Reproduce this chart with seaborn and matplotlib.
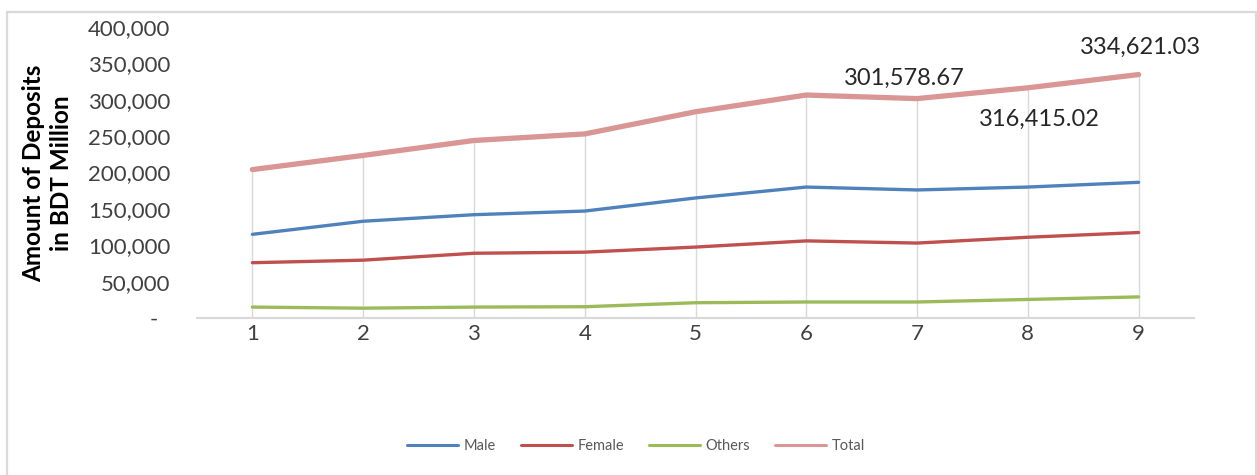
import matplotlib
matplotlib.use("Agg")
import matplotlib.pyplot as plt
import matplotlib.transforms as mtransforms
from matplotlib.patches import Rectangle
from matplotlib.ticker import FuncFormatter
import numpy as np
import pandas as pd
import seaborn as sns

# Deposits by account-holder category, BDT million
periods = [1, 2, 3, 4, 5, 6, 7, 8, 9]
male = [115000, 133000, 142000, 147000, 165000, 180000, 176000, 180000, 186500]
female = [76000, 79500, 89000, 90500, 97500, 106000, 103000, 111000, 117500]
others = [15000, 13500, 15000, 15500, 21000, 22000, 22000, 25500, 29000]
total = [204000, 223500, 244000, 253000, 283500, 306500, 301578.67, 316415.02, 334621.03]

series_names = ["Male", "Female", "Others", "Total"]
y_ticks = [0, 50000, 100000, 150000, 200000, 250000, 300000, 350000, 400000]
labelled_periods = [7, 8, 9]

colors = {"Male": "#4F81BD", "Female": "#C0504D", "Others": "#9BBB59", "Total": "#D99694"}
widths = {"Male": 2.4, "Female": 2.4, "Others": 2.4, "Total": 3.8}

df = pd.DataFrame({"Period": periods * 4,
                   "Series": sum([[n] * len(periods) for n in series_names], []),
                   "Deposits": male + female + others + total})

sns.set_theme(style="white")
plt.rcParams["font.family"] = ["Lato", "DejaVu Sans"]

fig = plt.figure(figsize=(12.57, 4.75), dpi=100)
ax = fig.add_axes([197 / 1257, 1 - 318 / 475, 997 / 1257, 291 / 475])

# drop lines from the total down to the category axis
ax.vlines(periods, 0, total, color="#D9D9D9", lw=1.0, zorder=1)

for name in series_names:
    sns.lineplot(data=df[df["Series"] == name], x="Period", y="Deposits",
                 color=colors[name], linewidth=widths[name], ax=ax,
                 label=name, zorder=3, solid_capstyle="round")

ax.set_xlim(0.5, 9.5)
ax.set_ylim(0, 400000)
ax.set_xticks(periods)
ax.set_yticks(y_ticks)
ax.yaxis.set_major_formatter(FuncFormatter(lambda v, p: "-" if v == 0 else f"{v:,.0f}"))
ax.tick_params(axis="both", length=0, labelsize=16, colors="#404040")
ax.tick_params(axis="y", pad=19)
ax.tick_params(axis="x", pad=4)
ax.set_xlabel("")
ax.set_ylabel("")

for s in ["left", "right", "top"]:
    ax.spines[s].set_visible(False)
ax.spines["bottom"].set_color("#D9D9D9")
ax.spines["bottom"].set_linewidth(1.5)
ax.spines["bottom"].set_zorder(2)

# the zero label sits a little left of the others
fig.canvas.draw()
for lbl in ax.get_yticklabels():
    if lbl.get_text() == "-":
        lbl.set_transform(lbl.get_transform()
                          + mtransforms.ScaledTranslation(-13 / 100, 0, fig.dpi_scale_trans))

# value labels on the total line
offsets = {7: (-13, 20), 8: (12, -32), 9: (2, 27)}
for p in labelled_periods:
    v = total[periods.index(p)]
    ax.annotate(f"{v:,.2f}", xy=(p, v), xytext=offsets[p], textcoords="offset pixels",
                ha="center", va="center", fontsize=17, color="#262626", zorder=5)

fig.text(48 / 1257, 1 - 173.5 / 475, "Amount of Deposits\nin BDT Million",
         rotation=90, ha="center", va="center", multialignment="center",
         fontsize=17.5, fontweight="bold", color="#000000", linespacing=1.25)

handles, labels = ax.get_legend_handles_labels()
leg = fig.legend(handles, labels, loc="center", bbox_to_anchor=(636 / 1257, 1 - 446 / 475),
                 ncol=4, frameon=False, fontsize=10.5, handlelength=3.5,
                 handletextpad=0.4, columnspacing=1.7, labelcolor="#595959")
for h in leg.get_lines():
    h.set_linewidth(2.2)
ax.get_legend().remove()

# chart-area frame
fig.patches.append(Rectangle((7 / 1257, -0.05), (1255.5 - 7) / 1257, 1.05 - 12 / 475,
                             transform=fig.transFigure, fill=False,
                             edgecolor="#D9D9D9", linewidth=1.6, zorder=0))

fig.savefig("out.png", dpi=100)
